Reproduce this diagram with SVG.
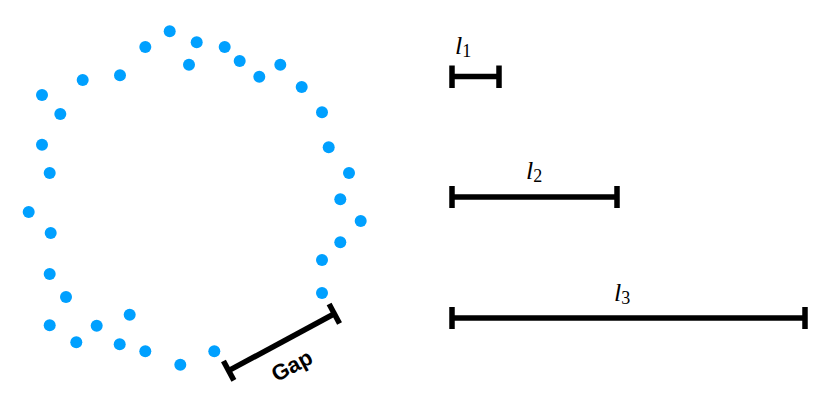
<svg xmlns="http://www.w3.org/2000/svg" width="830" height="406" viewBox="0 0 830 406">
<style>
.d{fill:#00A0FF}
.bar{stroke:#000;stroke-width:5.5;fill:none}
.lab{font-family:"Liberation Serif",serif;font-size:26px;font-style:italic;fill:#000}
.sub{font-style:normal;font-size:18px}
.gap{font-family:"Liberation Sans",Arial,sans-serif;font-weight:bold;font-size:22px;fill:#000}
</style>
<rect width="830" height="406" fill="#fff"/>
<g id="dots">
<circle class="d" cx="42" cy="95" r="6"/>
<circle class="d" cx="60.3" cy="114" r="6"/>
<circle class="d" cx="82.7" cy="80" r="6"/>
<circle class="d" cx="120" cy="75.3" r="6"/>
<circle class="d" cx="145.3" cy="47" r="6"/>
<circle class="d" cx="169.7" cy="31.3" r="6"/>
<circle class="d" cx="196.7" cy="42.3" r="6"/>
<circle class="d" cx="189" cy="64.7" r="6"/>
<circle class="d" cx="224.7" cy="47" r="6"/>
<circle class="d" cx="239.7" cy="61" r="6"/>
<circle class="d" cx="259.3" cy="76.7" r="6"/>
<circle class="d" cx="280.3" cy="64.7" r="6"/>
<circle class="d" cx="301.7" cy="87" r="6"/>
<circle class="d" cx="322" cy="112.3" r="6"/>
<circle class="d" cx="328.7" cy="147.3" r="6"/>
<circle class="d" cx="349" cy="173" r="6"/>
<circle class="d" cx="340.3" cy="199.3" r="6"/>
<circle class="d" cx="42" cy="144.7" r="6"/>
<circle class="d" cx="49.7" cy="173" r="6"/>
<circle class="d" cx="28.7" cy="212" r="6"/>
<circle class="d" cx="50.7" cy="233" r="6"/>
<circle class="d" cx="49.7" cy="274" r="6"/>
<circle class="d" cx="66" cy="297" r="6"/>
<circle class="d" cx="49.7" cy="325.3" r="6"/>
<circle class="d" cx="76.3" cy="342.3" r="6"/>
<circle class="d" cx="96.7" cy="325.7" r="6"/>
<circle class="d" cx="129.7" cy="314.7" r="6"/>
<circle class="d" cx="119.7" cy="344.3" r="6"/>
<circle class="d" cx="145.3" cy="351.3" r="6"/>
<circle class="d" cx="180.3" cy="364.7" r="6"/>
<circle class="d" cx="214.3" cy="351.3" r="6"/>
<circle class="d" cx="360.7" cy="221" r="6"/>
<circle class="d" cx="340.3" cy="242.3" r="6"/>
<circle class="d" cx="322" cy="260" r="6"/>
<circle class="d" cx="322" cy="293" r="6"/>
</g>
<g id="gap">
<g transform="translate(281.5,342.2) rotate(-28.3)">
<line class="bar" x1="-60" y1="0" x2="60" y2="0"/>
<line class="bar" x1="-60" y1="-11" x2="-60" y2="11"/>
<line class="bar" x1="60" y1="-11" x2="60" y2="11"/>
<text class="gap" x="-2" y="33" text-anchor="middle">Gap</text>
</g>
</g>
<g id="l1">
<line class="bar" x1="452" y1="76.5" x2="499" y2="76.5"/>
<line class="bar" x1="452" y1="65.5" x2="452" y2="88"/>
<line class="bar" x1="499" y1="65.5" x2="499" y2="88"/>
<text class="lab" x="455" y="54">l<tspan class="sub" dy="3">1</tspan></text>
</g>
<g id="l2">
<line class="bar" x1="452" y1="197" x2="617" y2="197"/>
<line class="bar" x1="452" y1="186" x2="452" y2="208"/>
<line class="bar" x1="617" y1="186" x2="617" y2="208"/>
<text class="lab" x="526" y="179">l<tspan class="sub" dy="3">2</tspan></text>
</g>
<g id="l3">
<line class="bar" x1="452" y1="318" x2="805" y2="318"/>
<line class="bar" x1="452" y1="307" x2="452" y2="329"/>
<line class="bar" x1="805" y1="307" x2="805" y2="329"/>
<text class="lab" x="614" y="301">l<tspan class="sub" dy="3">3</tspan></text>
</g>
</svg>
